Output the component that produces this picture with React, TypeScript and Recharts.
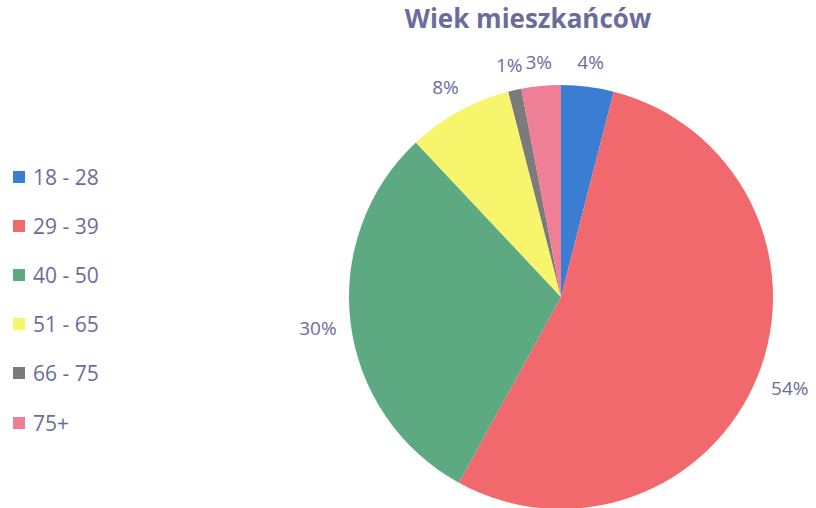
import { PieChart, Pie, Cell } from "recharts";

const AGE_GROUPS = ["18 - 28", "29 - 39", "40 - 50", "51 - 65", "66 - 75", "75+"];
const SHARES = [4, 54, 30, 8, 1, 3];
const COLORS = ["#3a7dd2", "#f2696d", "#5ca982", "#f7f56c", "#7b7b7b", "#ee7f97"];

const TEXT = "#6c6c9c";
const FONT = "'Open Sans', Lato, sans-serif";

const data = AGE_GROUPS.map((name, i) => ({ name, value: SHARES[i] }));

const RAD = Math.PI / 180;

function renderLabel(props: any) {
  const { cx, cy, midAngle, outerRadius, value } = props;
  const text = `${value}%`;
  const halfW = text.length * 6;
  const c = Math.cos(midAngle * RAD);
  const s = Math.sin(midAngle * RAD);
  const d = outerRadius + 14 + halfW * Math.abs(c) + 9 * Math.abs(s);
  const x = cx + d * c;
  const y = cy - d * s;
  return (
    <text
      x={x}
      y={y}
      fill={TEXT}
      fontFamily={FONT}
      fontSize={19}
      textAnchor="middle"
      dominantBaseline="central"
    >
      {text}
    </text>
  );
}

export default function App() {
  return (
    <div
      style={{
        position: "absolute",
        left: 0,
        top: 0,
        width: 816,
        height: 508,
        background: "#fff",
        overflow: "hidden",
      }}
    >
      <div
        style={{
          position: "absolute",
          left: 330,
          width: 396,
          top: 0,
          textAlign: "center",
          fontFamily: FONT,
          fontWeight: 700,
          fontSize: 26,
          color: TEXT,
        }}
      >
        Wiek mieszkańców
      </div>
      <ul
        style={{
          position: "absolute",
          left: 13,
          top: 152,
          listStyle: "none",
          margin: 0,
          padding: 0,
        }}
      >
        {AGE_GROUPS.map((name, i) => (
          <li
            key={name}
            style={{
              display: "flex",
              alignItems: "center",
              height: 49.2,
              fontFamily: FONT,
              fontSize: 21,
              color: TEXT,
            }}
          >
            <span
              style={{
                display: "inline-block",
                width: 12,
                height: 12,
                background: COLORS[i],
                marginRight: 8,
              }}
            />
            {name}
          </li>
        ))}
      </ul>
      <PieChart width={816} height={508} margin={{ top: 0, right: 0, bottom: 0, left: 0 }}>
        <Pie
          data={data}
          dataKey="value"
          nameKey="name"
          cx={561}
          cy={297}
          outerRadius={212}
          startAngle={90}
          endAngle={-270}
          stroke="none"
          labelLine={false}
          label={renderLabel}
          isAnimationActive={false}
        >
          {data.map((_, i) => (
            <Cell key={i} fill={COLORS[i]} />
          ))}
        </Pie>
      </PieChart>
    </div>
  );
}
